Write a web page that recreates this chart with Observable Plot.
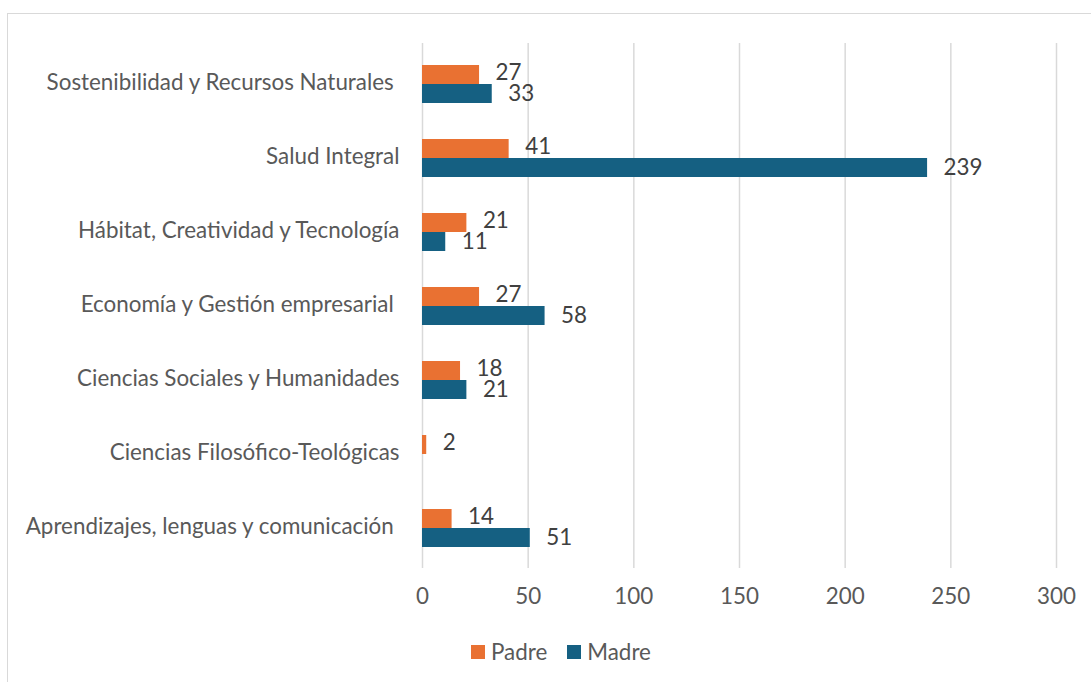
<!DOCTYPE html>
<html>
<head>
<meta charset="utf-8">
<script src="https://cdn.jsdelivr.net/npm/d3@7"></script>
<script src="https://cdn.jsdelivr.net/npm/@observablehq/plot@0.6"></script>
<style>
  html, body { margin: 0; padding: 0; background: #fff; overflow: hidden; width: 1091px; height: 682px; }
  #wrap { position: relative; width: 1091px; height: 682px; font-family: Lato, sans-serif; }
  #frame { position: absolute; left: 7px; top: 13px; width: 1110px; height: 700px; border: 1.5px solid #d9d9d9; box-sizing: border-box; pointer-events: none; }
  #chart { position: absolute; left: 0; top: 0; }
  #legend { position: absolute; left: 471px; top: 638px; display: flex; align-items: center; font-size: 22.4px; color: #595959; }
  #legend .sw { width: 14px; height: 14px; display: inline-block; margin-right: 6px; }
  #legend .item { display: flex; align-items: center; margin-right: 20px; }
</style>
</head>
<body>
<div id="wrap">
  <div id="frame"></div>
  <div id="chart"></div>
  <div id="legend"></div>
</div>
<script>
const categories = [
  "Sostenibilidad y Recursos Naturales ",
  "Salud Integral",
  "Hábitat, Creatividad y Tecnología",
  "Economía y Gestión empresarial ",
  "Ciencias Sociales y Humanidades",
  "Ciencias Filosófico-Teológicas",
  "Aprendizajes, lenguas y comunicación "
];
const padre = [27, 41, 21, 27, 18, 2, 14];
const madre = [33, 239, 11, 58, 21, null, 51];
const xTicks = [0, 50, 100, 150, 200, 250, 300];
const seriesNames = ["Padre", "Madre"];
const seriesColors = ["#E97132", "#156082"];

const padreRows = categories.map((c, i) => ({cat: c, value: padre[i]})).filter(d => d.value != null);
const madreRows = categories.map((c, i) => ({cat: c, value: madre[i]})).filter(d => d.value != null);

const fs = 22.4;
const chart = Plot.plot({
  width: 1091,
  height: 625,
  marginTop: 43,
  marginBottom: 57,
  marginLeft: 422,
  marginRight: 35,
  style: {fontFamily: "Lato, sans-serif", fontSize: fs + "px", color: "#595959", background: "transparent"},
  x: {domain: [0, 300], label: null},
  y: {domain: categories, paddingInner: 0.493, paddingOuter: 0.2467, label: null},
  marks: [
    Plot.gridX(xTicks, {stroke: "#d9d9d9", strokeOpacity: 1, strokeWidth: 1.5}),
    Plot.axisX({ticks: xTicks, tickSize: 0, tickPadding: 20, label: null, fontSize: fs}),
    Plot.axisY({tickSize: 0, tickPadding: 23, label: null, fontSize: fs, dy: -2,
      tickFormat: d => d.replace(/ $/, "\u00a0")}),
    Plot.barX(padreRows, {x: "value", y: "cat", fill: seriesColors[0], insetBottom: 19}),
    Plot.barX(madreRows, {x: "value", y: "cat", fill: seriesColors[1], insetTop: 19}),
    Plot.text(padreRows, {x: "value", y: "cat", text: d => String(d.value), dx: 16, dy: -11.5, textAnchor: "start", fill: "#404040", fontSize: fs}),
    Plot.text(madreRows, {x: "value", y: "cat", text: d => String(d.value), dx: 16, dy: 9, textAnchor: "start", fill: "#404040", fontSize: fs})
  ]
});
document.getElementById("chart").appendChild(chart);

const legend = document.getElementById("legend");
seriesNames.forEach((name, i) => {
  const item = document.createElement("div");
  item.className = "item";
  const sw = document.createElement("span");
  sw.className = "sw";
  sw.style.background = seriesColors[i];
  const t = document.createElement("span");
  t.textContent = name;
  item.appendChild(sw);
  item.appendChild(t);
  legend.appendChild(item);
});
</script>
</body>
</html>
